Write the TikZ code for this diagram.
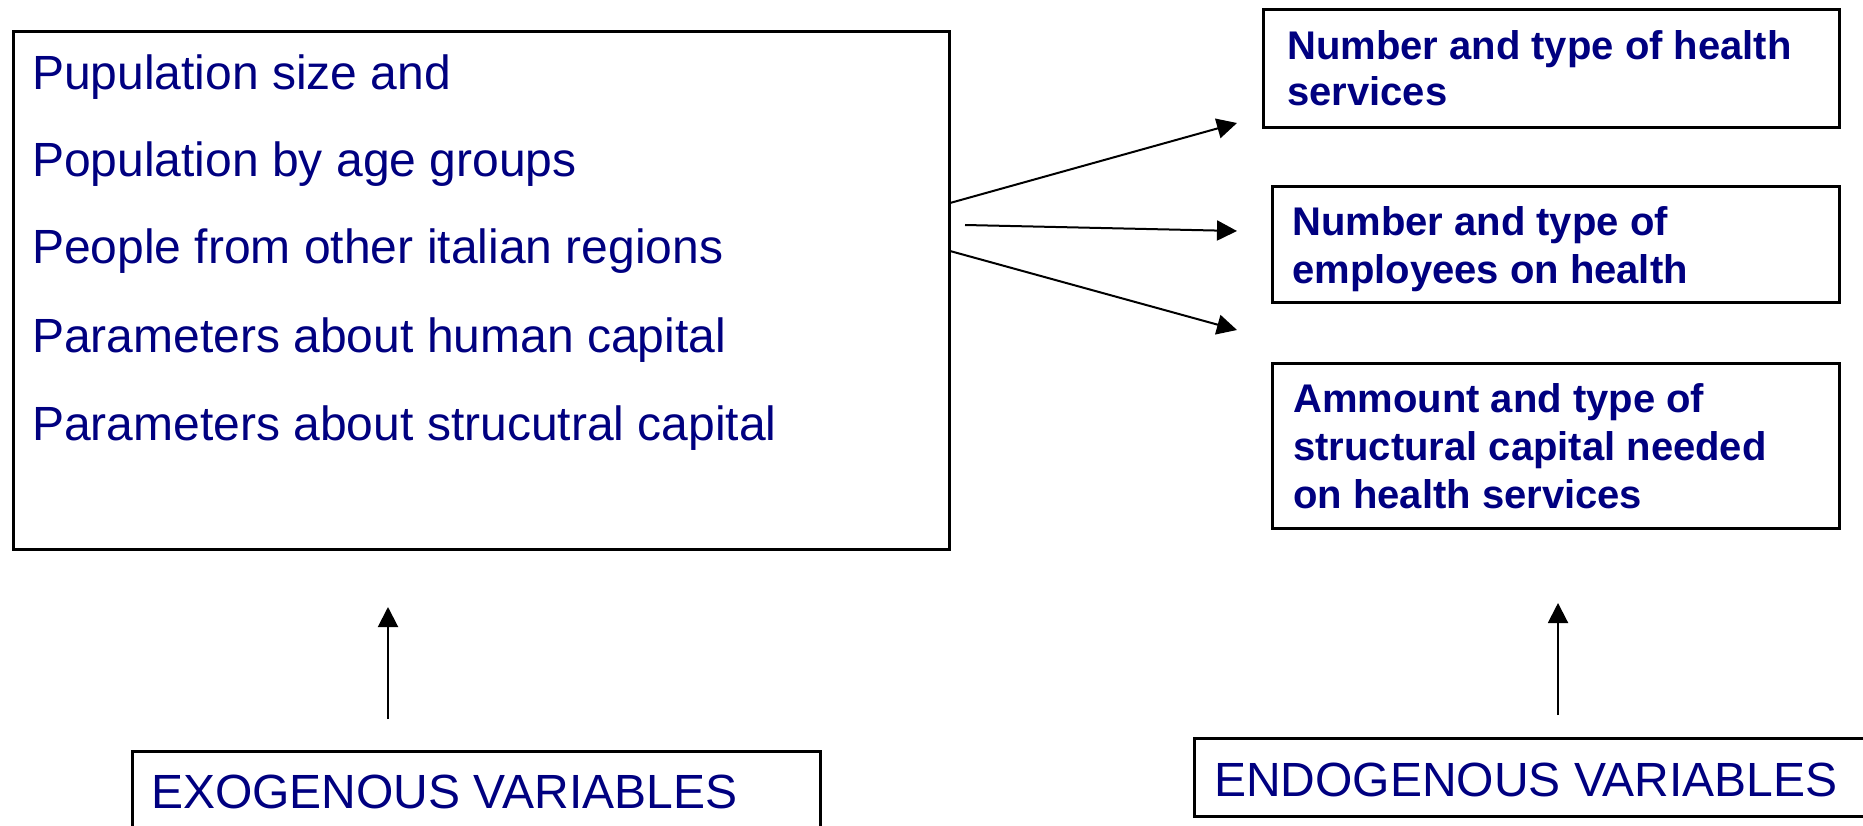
\documentclass[tikz,border=0pt]{standalone}
\usepackage{fontspec}
\setmainfont{Liberation Sans}
\usetikzlibrary{arrows.meta}
\definecolor{navy}{RGB}{0,0,128}
\begin{document}
\begin{tikzpicture}[x=1pt,y=-1pt,
  frame/.style={draw=black, line width=3pt, inner sep=0pt, outer sep=0pt, anchor=north west},
  plaintext/.style={text=navy, font=\fontsize{48}{58}\selectfont, anchor=base west, inner sep=0pt},
  boldtext/.style={text=navy, font=\fontsize{40}{48}\selectfont\bfseries, anchor=base west, inner sep=0pt},
  link/.style={line width=2pt, -{Triangle[length=20pt,width=20pt]}}]
\useasboundingbox (0,0) rectangle (1863,826);

% input box with the exogenous quantities
\node[frame, minimum width=936pt, minimum height=517pt] (inputs) at (13,32) {};
\node[plaintext] (in1) at (32,90)  {Pupulation size and};
\node[plaintext] (in2) at (32,177) {Population by age groups};
\node[plaintext] (in3) at (32,264) {People from other italian regions};
\node[plaintext] (in4) at (32,352) {Parameters about human capital};
\node[plaintext] (in5) at (32,440) {Parameters about strucutral capital};

% output boxes
\node[frame, minimum width=576pt, minimum height=118pt] (out1) at (1263,10) {};
\node[boldtext] (o1a) at (1287,60)  {Number and type of health};
\node[boldtext] (o1b) at (1287,106) {services};

\node[frame, minimum width=567pt, minimum height=116pt] (out2) at (1272,187) {};
\node[boldtext] (o2a) at (1292,236) {Number and type of};
\node[boldtext] (o2b) at (1292,284) {employees on health};

\node[frame, minimum width=567pt, minimum height=165pt] (out3) at (1272,363) {};
\node[boldtext] (o3a) at (1293,412) {Ammount and type of};
\node[boldtext] (o3b) at (1293,460) {structural capital needed};
\node[boldtext] (o3c) at (1293,508) {on health services};

% legend boxes at the bottom
\node[frame, minimum width=688pt, minimum height=150pt] (exo) at (132,751) {};
\node[plaintext] (exot) at (151,808) {EXOGENOUS VARIABLES};
\node[frame, minimum width=720pt, minimum height=78pt] (endo) at (1194,738) {};
\node[plaintext] (endot) at (1214,796) {ENDOGENOUS VARIABLES};

% arrow end points
\coordinate (s1) at (950,203);
\coordinate (t1) at (1237,123);
\coordinate (s2) at (965,225);
\coordinate (t2) at (1237,231);
\coordinate (s3) at (950,251);
\coordinate (t3) at (1237,330);
\coordinate (exos) at (388,719);
\coordinate (exoe) at (388,607);
\coordinate (endos) at (1558,715);
\coordinate (endoe) at (1558,603);

\draw[link] (s1) -- (t1);
\draw[link] (s2) -- (t2);
\draw[link] (s3) -- (t3);
\draw[link] (exos) -- (exoe);
\draw[link] (endos) -- (endoe);
\end{tikzpicture}
\end{document}
